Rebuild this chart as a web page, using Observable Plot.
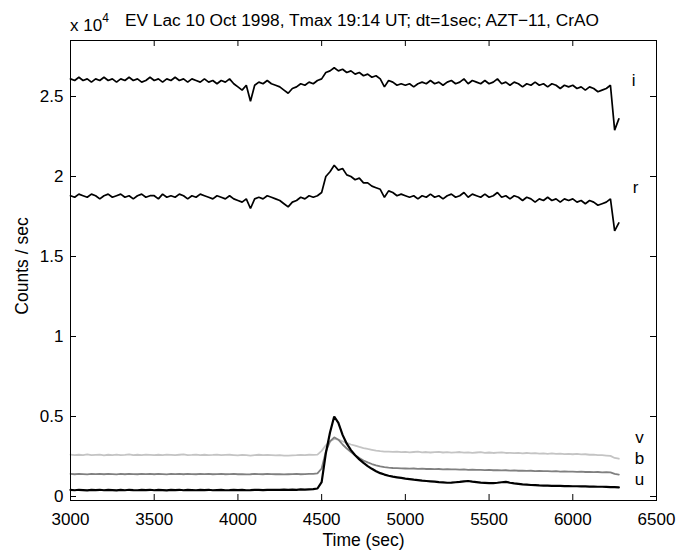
<!DOCTYPE html>
<html><head><meta charset="utf-8">
<script src="https://cdn.jsdelivr.net/npm/d3@7"></script>
<script src="https://cdn.jsdelivr.net/npm/@observablehq/plot@0.6"></script>
<style>body{margin:0;background:#fff}</style>
</head><body><div id="chart"></div>
<script>
// Time grid (sec), sampled every 25 s
const tStart = 3000, tStep = 25;
// Values in units of 10^4 counts/sec
const iVals = [2.61,2.60,2.62,2.60,2.61,2.59,2.61,2.60,2.62,2.60,2.61,2.59,2.61,2.60,2.62,2.60,2.61,2.59,2.60,2.62,
2.60,2.61,2.59,2.61,2.60,2.62,2.60,2.61,2.59,2.61,2.60,2.59,2.61,2.59,2.60,2.58,2.60,2.59,2.61,2.58,
2.56,2.54,2.57,2.47,2.57,2.59,2.58,2.60,2.58,2.57,2.56,2.54,2.52,2.55,2.56,2.58,2.57,2.59,2.58,2.60,
2.61,2.65,2.66,2.68,2.66,2.67,2.65,2.66,2.64,2.65,2.63,2.64,2.62,2.63,2.61,2.56,2.60,2.59,2.57,2.58,
2.57,2.58,2.56,2.58,2.59,2.58,2.60,2.58,2.59,2.57,2.59,2.60,2.58,2.59,2.61,2.58,2.60,2.59,2.58,2.60,
2.58,2.59,2.61,2.58,2.59,2.57,2.59,2.58,2.56,2.58,2.57,2.59,2.57,2.58,2.56,2.58,2.57,2.55,2.57,2.56,
2.57,2.55,2.56,2.54,2.56,2.55,2.53,2.54,2.55,2.57,2.29,2.36];
const rVals = [1.88,1.87,1.89,1.88,1.87,1.89,1.88,1.86,1.88,1.89,1.87,1.88,1.89,1.87,1.88,1.86,1.88,1.89,1.87,1.88,
1.88,1.86,1.89,1.87,1.88,1.87,1.89,1.88,1.86,1.88,1.87,1.89,1.88,1.87,1.86,1.88,1.87,1.86,1.88,1.86,
1.85,1.84,1.86,1.80,1.86,1.87,1.86,1.88,1.87,1.86,1.85,1.83,1.81,1.84,1.85,1.87,1.86,1.88,1.87,1.88,
1.90,2.00,2.03,2.07,2.04,2.05,2.01,2.00,1.98,1.99,1.96,1.96,1.94,1.93,1.92,1.87,1.91,1.90,1.88,1.89,
1.88,1.87,1.88,1.86,1.88,1.87,1.89,1.87,1.88,1.86,1.88,1.89,1.87,1.88,1.90,1.87,1.89,1.88,1.87,1.89,
1.87,1.88,1.90,1.87,1.88,1.86,1.88,1.87,1.85,1.87,1.86,1.84,1.86,1.85,1.87,1.85,1.86,1.84,1.86,1.85,
1.86,1.84,1.85,1.83,1.85,1.84,1.82,1.83,1.84,1.86,1.66,1.71];
const vVals = [0.262,0.258,0.261,0.259,0.263,0.258,0.260,0.262,0.257,0.261,0.259,0.262,0.258,0.260,0.263,0.259,0.261,0.258,0.262,0.260,
0.258,0.261,0.259,0.262,0.260,0.258,0.261,0.263,0.259,0.260,0.262,0.258,0.261,0.259,0.260,0.262,0.258,0.260,0.261,0.259,
0.257,0.260,0.258,0.256,0.259,0.261,0.258,0.260,0.259,0.257,0.258,0.256,0.255,0.257,0.258,0.260,0.259,0.261,0.260,0.262,
0.285,0.320,0.345,0.360,0.355,0.345,0.335,0.325,0.318,0.310,0.303,0.297,0.292,0.287,0.283,0.281,0.280,
0.279,0.281,0.277,0.279,0.276,0.278,0.280,0.276,0.278,0.275,0.277,0.279,0.275,0.277,0.274,0.276,0.278,0.274,0.276,0.273,
0.275,0.277,0.273,0.275,0.272,0.274,0.276,0.272,0.273,0.271,0.273,0.270,0.272,0.269,0.271,0.268,0.270,0.267,0.269,0.266,
0.268,0.265,0.267,0.264,0.266,0.263,0.264,0.261,0.262,0.259,0.258,0.256,0.254,0.241,0.236];
const bVals = [0.141,0.139,0.142,0.140,0.138,0.141,0.140,0.142,0.139,0.141,0.140,0.138,0.141,0.139,0.142,0.140,0.139,0.141,0.140,0.142,
0.139,0.141,0.140,0.138,0.141,0.140,0.142,0.139,0.141,0.140,0.139,0.141,0.140,0.142,0.139,0.140,0.141,0.139,0.140,0.141,
0.139,0.140,0.138,0.139,0.141,0.140,0.139,0.141,0.140,0.139,0.140,0.138,0.139,0.140,0.141,0.139,0.140,0.142,0.141,0.145,
0.175,0.280,0.345,0.370,0.355,0.325,0.300,0.278,0.258,0.240,0.225,0.213,0.203,0.195,0.188,0.183,0.180,
0.178,0.177,0.176,0.175,0.174,0.175,0.173,0.174,0.172,0.173,0.171,0.172,0.170,0.171,0.169,0.170,0.168,0.169,0.167,0.168,
0.166,0.167,0.165,0.166,0.164,0.165,0.163,0.164,0.162,0.163,0.161,0.162,0.160,0.161,0.159,0.160,0.158,0.159,0.157,0.158,
0.156,0.157,0.155,0.156,0.154,0.155,0.153,0.154,0.152,0.153,0.151,0.152,0.151,0.141,0.137];
const uVals = [0.041,0.039,0.042,0.040,0.038,0.041,0.040,0.042,0.039,0.041,0.040,0.038,0.041,0.039,0.042,0.040,0.039,0.041,0.040,0.042,
0.039,0.041,0.040,0.038,0.041,0.040,0.042,0.039,0.041,0.040,0.039,0.041,0.040,0.042,0.039,0.040,0.041,0.039,0.040,0.042,
0.040,0.041,0.039,0.040,0.042,0.041,0.040,0.042,0.041,0.042,0.041,0.043,0.042,0.043,0.042,0.044,0.043,0.045,0.046,0.050,
0.090,0.270,0.400,0.500,0.460,0.385,0.330,0.290,0.258,0.232,0.210,0.190,0.173,0.158,0.146,0.137,0.130,
0.124,0.120,0.116,0.112,0.109,0.105,0.102,0.099,0.097,0.095,0.093,0.090,0.088,0.086,0.087,0.089,0.091,0.095,0.097,0.093,
0.090,0.087,0.085,0.083,0.084,0.086,0.089,0.091,0.086,0.082,0.079,0.076,0.074,0.072,0.071,0.069,0.068,0.068,0.067,0.066,
0.066,0.065,0.065,0.064,0.064,0.063,0.063,0.062,0.062,0.061,0.061,0.060,0.059,0.058,0.057];

const xTicks = [3000,3500,4000,4500,5000,5500,6000,6500];
const yTicks = [0,0.5,1,1.5,2,2.5];
const bandNames = ["i","r","v","b","u"];
const labelX = [6363,6375,6399,6399,6399];
const labelY = [2.60,1.93,0.37,0.235,0.105];

const titleText = "EV Lac 10 Oct 1998, Tmax 19:14 UT; dt=1sec; AZT\u221211, CrAO";
const xLabel = "Time (sec)";
const yLabel = "Counts / sec";

const rows = vals => vals.map((v, k) => ({t: tStart + k * tStep, v}));
const series = [
  {vals: vVals, stroke: "#c4c4c4", w: 1.8},
  {vals: bVals, stroke: "#808080", w: 1.8},
  {vals: uVals, stroke: "#000", w: 2.2},
  {vals: rVals, stroke: "#000", w: 1.7},
  {vals: iVals, stroke: "#000", w: 1.7}
];
const labels = bandNames.map((n, k) => ({n, x: labelX[k], y: labelY[k]}));

const fmt = d => String(d);
const chart = Plot.plot({
  width: 677, height: 550,
  marginLeft: 70, marginRight: 21, marginTop: 40, marginBottom: 50,
  style: {fontFamily: "'Liberation Sans', Arial, Helvetica, sans-serif", fontSize: "17px", background: "#fff", color: "#000", overflow: "visible"},
  x: {domain: [3000, 6500]},
  y: {domain: [-0.025, 2.85]},
  marks: [
    ...series.map(s => Plot.line(rows(s.vals), {x: "t", y: "v", stroke: s.stroke, strokeWidth: s.w, strokeLinejoin: "miter"})),
    Plot.tickX(xTicks, {x: d => d, insetTop: 454, stroke: "#000"}),
    Plot.tickX(xTicks, {x: d => d, insetBottom: 454, stroke: "#000"}),
    Plot.tickY(yTicks, {y: d => d, insetRight: 580, stroke: "#000"}),
    Plot.tickY(yTicks, {y: d => d, insetLeft: 580, stroke: "#000"}),
    Plot.frame({stroke: "#000"}),
    Plot.axisX(xTicks, {tickSize: 0, tickPadding: 12, tickFormat: fmt, label: null}),
    Plot.axisY(yTicks, {tickSize: 0, tickPadding: 7, tickFormat: fmt, label: null}),
    Plot.text(labels, {x: "x", y: "y", text: "n", fontSize: 17}),
    Plot.text([xLabel], {text: d => d, frameAnchor: "bottom", dy: 45, fontSize: 17.5})
  ]
});
document.getElementById("chart").appendChild(chart);

const svg = d3.select(chart);
svg.append("text").attr("x", 28).attr("y", 266).attr("transform", "rotate(-90,28,266)")
  .attr("text-anchor", "middle").attr("font-size", 17.5).text(yLabel);
const ex = svg.append("text").attr("x", 70).attr("y", 31).attr("font-size", 17).attr("text-anchor", "start");
ex.append("tspan").text("x 10");
ex.append("tspan").attr("dy", -9).attr("font-size", 12).text("4");
svg.append("text").attr("x", 125).attr("y", 26).attr("font-size", 17.3).attr("text-anchor", "start").text(titleText);
</script>
</body></html>
